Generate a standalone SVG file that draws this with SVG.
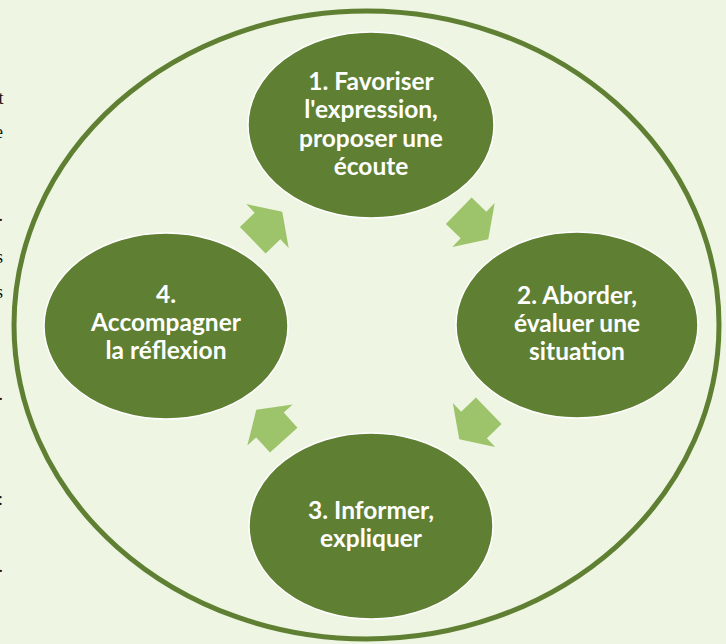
<svg xmlns="http://www.w3.org/2000/svg" width="726" height="644" viewBox="0 0 726 644">
  <style>
    .node { fill: #5F7F32; stroke: #FFFFFF; stroke-width: 1.5; }
    .label { fill: #FFFFFF; font-family: "Lato", "Liberation Sans", sans-serif; font-weight: bold; font-size: 24.5px; text-anchor: middle; }
    .arrow { fill: #9DC46A; }
    .frag { fill: #111111; font-family: "Liberation Serif", serif; font-size: 18px; text-anchor: end; }
  </style>
  <defs>
    <path id="blockArrow" d="M -20.5,-18.5 L 0,-18.5 L 0,-30.5 L 20.5,0 L 0,30.5 L 0,18.5 L -20.5,18.5 Z"/>
  </defs>
  <rect x="0" y="0" width="726" height="644" fill="#EEF5E3"/>

  <g id="text-fragments">
    <text class="frag" x="3.5" y="104">t</text>
    <text class="frag" x="3" y="138">e</text>
    <text class="frag" x="3" y="221">.</text>
    <text class="frag" x="3" y="263">s</text>
    <text class="frag" x="3" y="298">s</text>
    <text class="frag" x="3" y="400">.</text>
    <text class="frag" x="3" y="505">:</text>
    <text class="frag" x="3" y="572">.</text>
  </g>

  <g id="outer-ring">
    <ellipse cx="366.5" cy="325" rx="352.5" ry="314" fill="none" stroke="#5F7F32" stroke-width="5"/>
  </g>

  <g id="connectors">
    <use href="#blockArrow" class="arrow" transform="translate(473.5,225) rotate(44)"/>
    <use href="#blockArrow" class="arrow" transform="translate(474,425) rotate(136)"/>
    <use href="#blockArrow" class="arrow" transform="translate(270,425) rotate(228)"/>
    <use href="#blockArrow" class="arrow" transform="translate(267.5,226) rotate(-44)"/>
  </g>

  <g id="node1">
    <ellipse class="node" cx="371" cy="125" rx="123" ry="93"/>
    <text class="label" x="371" y="90">1. Favoriser</text>
    <text class="label" x="371" y="118">l'expression,</text>
    <text class="label" x="371" y="147">proposer une</text>
    <text class="label" x="371" y="175">écoute</text>
  </g>

  <g id="node2">
    <ellipse class="node" cx="577" cy="325" rx="121" ry="93"/>
    <text class="label" x="577" y="304">2. Aborder,</text>
    <text class="label" x="577" y="332">évaluer une</text>
    <text class="label" x="577" y="360">situation</text>
  </g>

  <g id="node3">
    <ellipse class="node" cx="371" cy="526" rx="122" ry="93"/>
    <text class="label" x="371" y="519">3. Informer,</text>
    <text class="label" x="371" y="547">expliquer</text>
  </g>

  <g id="node4">
    <ellipse class="node" cx="166" cy="326" rx="122" ry="93"/>
    <text class="label" x="166" y="303">4.</text>
    <text class="label" x="166" y="331">Accompagner</text>
    <text class="label" x="166" y="359">la réflexion</text>
  </g>
</svg>
